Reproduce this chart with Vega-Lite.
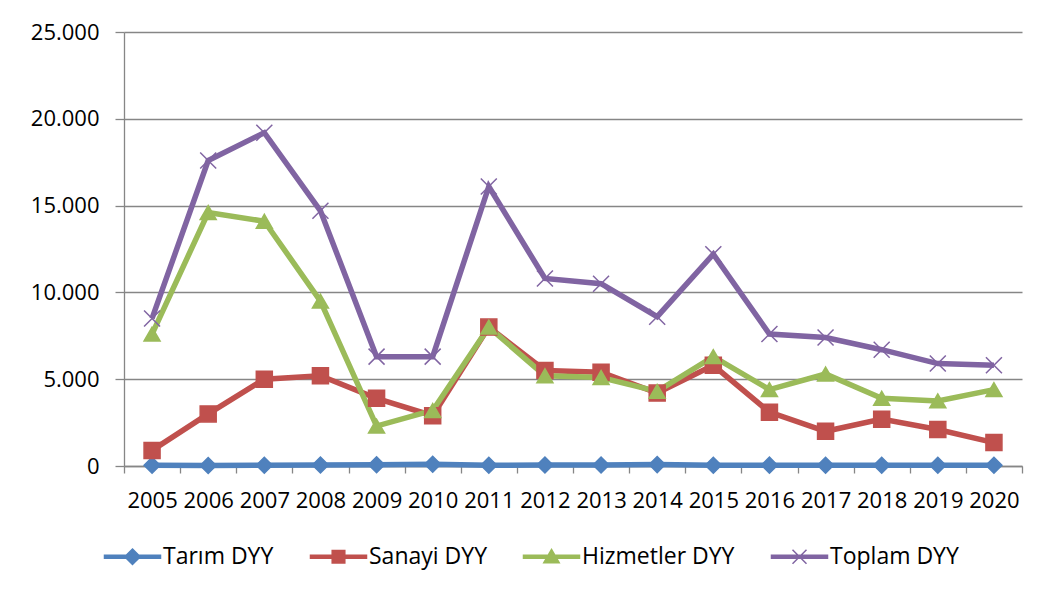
{
  "$schema": "https://vega.github.io/schema/vega-lite/v6.json",
  "width": 898,
  "height": 434,
  "autosize": {"type": "none"},
  "padding": {"left": 124, "top": 32, "right": 18, "bottom": 133},
  "background": "white",
  "config": {"view": {"stroke": null}, "font": "Open Sans"},
  "data": {
    "values": [
      {"year": "2005", "series": "Tarım DYY", "value": 40},
      {"year": "2006", "series": "Tarım DYY", "value": 30},
      {"year": "2007", "series": "Tarım DYY", "value": 40},
      {"year": "2008", "series": "Tarım DYY", "value": 60},
      {"year": "2009", "series": "Tarım DYY", "value": 70},
      {"year": "2010", "series": "Tarım DYY", "value": 100},
      {"year": "2011", "series": "Tarım DYY", "value": 40},
      {"year": "2012", "series": "Tarım DYY", "value": 60},
      {"year": "2013", "series": "Tarım DYY", "value": 60},
      {"year": "2014", "series": "Tarım DYY", "value": 80},
      {"year": "2015", "series": "Tarım DYY", "value": 40},
      {"year": "2016", "series": "Tarım DYY", "value": 50},
      {"year": "2017", "series": "Tarım DYY", "value": 40},
      {"year": "2018", "series": "Tarım DYY", "value": 40},
      {"year": "2019", "series": "Tarım DYY", "value": 40},
      {"year": "2020", "series": "Tarım DYY", "value": 40},
      {"year": "2005", "series": "Sanayi DYY", "value": 900},
      {"year": "2006", "series": "Sanayi DYY", "value": 3000},
      {"year": "2007", "series": "Sanayi DYY", "value": 5000},
      {"year": "2008", "series": "Sanayi DYY", "value": 5200},
      {"year": "2009", "series": "Sanayi DYY", "value": 3900},
      {"year": "2010", "series": "Sanayi DYY", "value": 2900},
      {"year": "2011", "series": "Sanayi DYY", "value": 8000},
      {"year": "2012", "series": "Sanayi DYY", "value": 5500},
      {"year": "2013", "series": "Sanayi DYY", "value": 5400},
      {"year": "2014", "series": "Sanayi DYY", "value": 4200},
      {"year": "2015", "series": "Sanayi DYY", "value": 5800},
      {"year": "2016", "series": "Sanayi DYY", "value": 3100},
      {"year": "2017", "series": "Sanayi DYY", "value": 2000},
      {"year": "2018", "series": "Sanayi DYY", "value": 2700},
      {"year": "2019", "series": "Sanayi DYY", "value": 2100},
      {"year": "2020", "series": "Sanayi DYY", "value": 1350},
      {"year": "2005", "series": "Hizmetler DYY", "value": 7600},
      {"year": "2006", "series": "Hizmetler DYY", "value": 14600},
      {"year": "2007", "series": "Hizmetler DYY", "value": 14100},
      {"year": "2008", "series": "Hizmetler DYY", "value": 9500},
      {"year": "2009", "series": "Hizmetler DYY", "value": 2300},
      {"year": "2010", "series": "Hizmetler DYY", "value": 3200},
      {"year": "2011", "series": "Hizmetler DYY", "value": 8000},
      {"year": "2012", "series": "Hizmetler DYY", "value": 5200},
      {"year": "2013", "series": "Hizmetler DYY", "value": 5100},
      {"year": "2014", "series": "Hizmetler DYY", "value": 4300},
      {"year": "2015", "series": "Hizmetler DYY", "value": 6300},
      {"year": "2016", "series": "Hizmetler DYY", "value": 4400},
      {"year": "2017", "series": "Hizmetler DYY", "value": 5300},
      {"year": "2018", "series": "Hizmetler DYY", "value": 3900},
      {"year": "2019", "series": "Hizmetler DYY", "value": 3750},
      {"year": "2020", "series": "Hizmetler DYY", "value": 4400},
      {"year": "2005", "series": "Toplam DYY", "value": 8500},
      {"year": "2006", "series": "Toplam DYY", "value": 17600},
      {"year": "2007", "series": "Toplam DYY", "value": 19200},
      {"year": "2008", "series": "Toplam DYY", "value": 14700},
      {"year": "2009", "series": "Toplam DYY", "value": 6300},
      {"year": "2010", "series": "Toplam DYY", "value": 6300},
      {"year": "2011", "series": "Toplam DYY", "value": 16100},
      {"year": "2012", "series": "Toplam DYY", "value": 10800},
      {"year": "2013", "series": "Toplam DYY", "value": 10500},
      {"year": "2014", "series": "Toplam DYY", "value": 8600},
      {"year": "2015", "series": "Toplam DYY", "value": 12200},
      {"year": "2016", "series": "Toplam DYY", "value": 7600},
      {"year": "2017", "series": "Toplam DYY", "value": 7400},
      {"year": "2018", "series": "Toplam DYY", "value": 6700},
      {"year": "2019", "series": "Toplam DYY", "value": 5900},
      {"year": "2020", "series": "Toplam DYY", "value": 5800}
    ]
  },
  "resolve": {"scale": {"shape": "independent", "size": "independent", "fill": "independent", "stroke": "independent"}, "legend": {"color": "independent"}},
  "encoding": {
    "x": {
      "field": "year",
      "type": "ordinal",
      "scale": {"type": "band", "paddingInner": 0, "paddingOuter": 0},
      "axis": {
        "title": null,
        "labelAngle": 0,
        "labelOverlap": false,
        "tickBand": "extent",
        "tickSize": 7,
        "tickWidth": 1.3,
        "tickColor": "#868686",
        "domainColor": "#868686",
        "domainWidth": 1.3,
        "grid": false,
        "labelFont": "Open Sans",
        "labelFontSize": 22,
        "labelColor": "black",
        "labelPadding": 17
      }
    },
    "y": {
      "field": "value",
      "type": "quantitative",
      "scale": {"domain": [0, 25000], "nice": false},
      "axis": {
        "title": null,
        "values": [0, 5000, 10000, 15000, 20000, 25000],
        "labelExpr": "replace(format(datum.value, ','), ',', '.')",
        "grid": true,
        "gridColor": "#868686",
        "gridWidth": 1.3,
        "domainColor": "#868686",
        "domainWidth": 1.3,
        "tickColor": "#868686",
        "tickWidth": 1.3,
        "tickSize": 9,
        "labelFont": "Open Sans",
        "labelFontSize": 22,
        "labelColor": "black",
        "labelPadding": 16
      }
    }
  },
  "layer": [
    {
      "mark": {"type": "line", "strokeWidth": 5.5},
      "encoding": {
        "color": {
          "field": "series",
          "type": "nominal",
          "scale": {
            "domain": ["Tarım DYY", "Sanayi DYY", "Hizmetler DYY", "Toplam DYY"],
            "range": ["#4F81BD", "#C0504D", "#9BBB59", "#8064A2"]
          },
          "legend": {
            "title": null,
            "orient": "none",
            "direction": "horizontal",
            "legendX": -18,
            "legendY": 513,
            "columnPadding": 33,
            "labelFont": "Open Sans",
            "labelFontSize": 23,
            "labelColor": "black",
            "symbolSize": 196,
            "symbolOffset": 15,
            "labelOffset": 19,
            "encode": {
              "symbols": {
                "update": {
                  "shape": {"signal": "datum.value === 'Tarım DYY' ? 'M-4,-0.2H4V0.2H-4Z M0,-1.1L1.1,0L0,1.1L-1.1,0Z' : datum.value === 'Sanayi DYY' ? 'M-4,-0.2H4V0.2H-4Z M-0.9,-0.9H0.9V0.9H-0.9Z' : datum.value === 'Hizmetler DYY' ? 'M-4,-0.2H4V0.2H-4Z M0,-1.05L1.1,0.85H-1.1Z' : 'M-4,-0.2H4V0.2H-4Z M-1,-1L1,1M-1,1L1,-1'"},
                  "fill": {"scale": "color", "field": "value"},
                  "stroke": {"scale": "color", "field": "value"},
                  "strokeWidth": {"value": 1.5},
                  "opacity": {"value": 1},
                  "fillOpacity": {"value": 1},
                  "strokeOpacity": {"value": 1}
                }
              }
            }
          }
        }
      }
    },
    {
      "mark": {"type": "point", "filled": true, "opacity": 1, "strokeWidth": 1.5},
      "encoding": {
        "shape": {
          "field": "series",
          "type": "nominal",
          "scale": {
            "domain": ["Tarım DYY", "Sanayi DYY", "Hizmetler DYY", "Toplam DYY"],
            "range": ["diamond", "square", "triangle-up", "M-1,-1L1,1M-1,1L1,-1"]
          },
          "legend": null
        },
        "size": {
          "field": "series",
          "type": "nominal",
          "scale": {
            "domain": ["Tarım DYY", "Sanayi DYY", "Hizmetler DYY", "Toplam DYY"],
            "range": [256, 256, 324, 324]
          },
          "legend": null
        },
        "fill": {
          "field": "series",
          "type": "nominal",
          "scale": {
            "domain": ["Tarım DYY", "Sanayi DYY", "Hizmetler DYY", "Toplam DYY"],
            "range": ["#4F81BD", "#C0504D", "#9BBB59", "#8064A2"]
          },
          "legend": null
        },
        "stroke": {
          "field": "series",
          "type": "nominal",
          "scale": {
            "domain": ["Tarım DYY", "Sanayi DYY", "Hizmetler DYY", "Toplam DYY"],
            "range": ["#4F81BD", "#C0504D", "#9BBB59", "#8064A2"]
          },
          "legend": null
        }
      }
    }
  ]
}
